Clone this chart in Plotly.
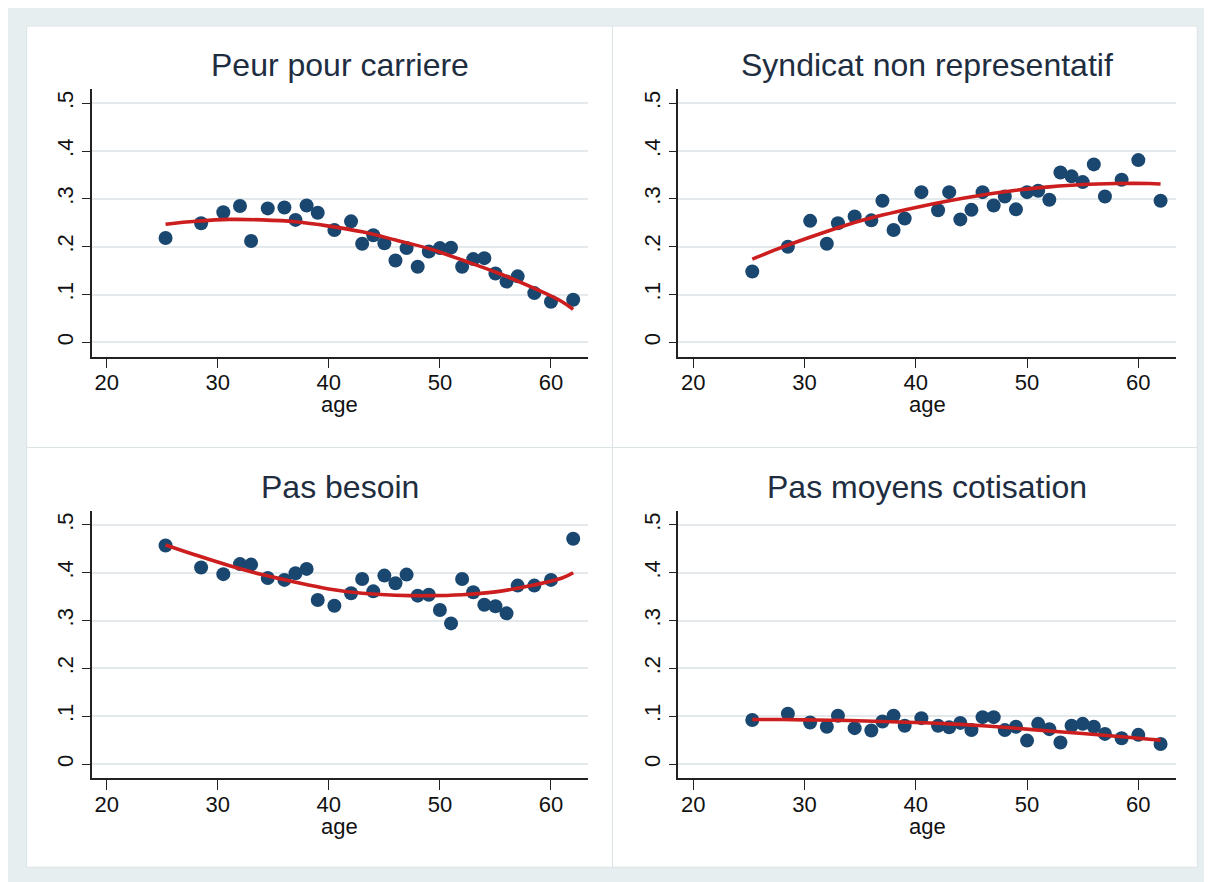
import plotly.graph_objects as go

# ---------------- data ----------------
ages = [25.3, 28.5, 30.5, 32, 33, 34.5, 36, 37, 38, 39, 40.5, 42, 43, 44, 45,
        46, 47, 48, 49, 50, 51, 52, 53, 54, 55, 56, 57, 58.5, 60, 62]

peur = [0.218, 0.249, 0.272, 0.285, 0.212, 0.280, 0.282, 0.256, 0.286, 0.271,
        0.235, 0.253, 0.206, 0.224, 0.207, 0.171, 0.197, 0.158, 0.190, 0.197,
        0.198, 0.158, 0.174, 0.176, 0.144, 0.127, 0.138, 0.103, 0.085, 0.089]

syndicat = [0.148, 0.200, 0.254, 0.206, 0.249, 0.263, 0.255, 0.296, 0.235, 0.259,
            0.314, 0.276, 0.314, 0.257, 0.277, 0.314, 0.286, 0.305, 0.278, 0.314,
            0.317, 0.298, 0.355, 0.347, 0.335, 0.372, 0.305, 0.340, 0.381, 0.296]

besoin = [0.457, 0.411, 0.397, 0.418, 0.417, 0.389, 0.385, 0.399, 0.408, 0.343,
          0.331, 0.357, 0.387, 0.361, 0.394, 0.378, 0.396, 0.352, 0.354, 0.322,
          0.294, 0.387, 0.359, 0.333, 0.330, 0.315, 0.373, 0.373, 0.385, 0.471]

moyens = [0.092, 0.105, 0.087, 0.078, 0.101, 0.075, 0.070, 0.089, 0.101, 0.080,
          0.096, 0.080, 0.077, 0.086, 0.071, 0.098, 0.098, 0.071, 0.078, 0.049,
          0.084, 0.073, 0.045, 0.080, 0.084, 0.078, 0.063, 0.054, 0.061, 0.042]

# fitted curves
fit_ages = [25.3, 28, 31, 34, 37, 40, 43, 46, 49, 52, 55, 58, 61, 62]
fit_peur = [0.247, 0.253, 0.257, 0.256, 0.252, 0.243, 0.231, 0.214, 0.196,
            0.172, 0.147, 0.118, 0.085, 0.069]
fit_syndicat = [0.174, 0.199, 0.224, 0.247, 0.266, 0.282, 0.296, 0.308, 0.318,
                0.325, 0.330, 0.332, 0.332, 0.331]
fit_besoin = [0.458, 0.437, 0.415, 0.396, 0.380, 0.366, 0.357, 0.353, 0.352,
              0.354, 0.360, 0.372, 0.389, 0.400]
fit_moyens = [0.093, 0.093, 0.092, 0.091, 0.089, 0.087, 0.084, 0.080, 0.075,
              0.069, 0.064, 0.058, 0.052, 0.050]

titles = ["Peur pour carriere", "Syndicat non representatif",
          "Pas besoin", "Pas moyens cotisation"]
x_title = "age"
x_ticks = [20, 30, 40, 50, 60]
y_ticks = [0, 0.1, 0.2, 0.3, 0.4, 0.5]
y_tick_text = ["0", ".1", ".2", ".3", ".4", ".5"]

# ---------------- layout geometry (pixels, page coordinates) ----------------
OFF = 8                      # default page body margin
W, H = 1212 - OFF, 882 - OFF
FONT = "Liberation Sans, Arial, sans-serif"
NAVY = "#1a476f"
RED = "#cc1e1e"
BG = "#e6eef0"
GRID = "#e4eaec"


def px_x(p):
    return (p - OFF) / W


def px_y(p):
    return 1 - (p - OFF) / H


panels = [
    dict(ax=(91.7, 588.3), ay=(89.3, 356.7), rect=(26.7, 612.5, 26, 447.5)),
    dict(ax=(678.3, 1175.7), ay=(89.3, 356.7), rect=(612.5, 1197.3, 26, 447.5)),
    dict(ax=(91.7, 588.3), ay=(511.0, 778.4), rect=(26.7, 612.5, 447.5, 867.3)),
    dict(ax=(678.3, 1175.7), ay=(511.0, 778.4), rect=(612.5, 1197.3, 447.5, 867.3)),
]
series = [peur, syndicat, besoin, moyens]
fits = [fit_peur, fit_syndicat, fit_besoin, fit_moyens]

fig = go.Figure()
shapes = []
annotations = []
layout = dict(width=W, height=H, margin=dict(l=0, r=0, t=0, b=0),
              paper_bgcolor=BG, plot_bgcolor="rgba(0,0,0,0)",
              showlegend=False, font=dict(family=FONT, color="#111111"))

for i, p in enumerate(panels):
    k = "" if i == 0 else str(i + 1)
    xa, ya = "x" + k, "y" + k
    x0, x1 = p["ax"]
    yt, yb = p["ay"]
    rx0, rx1, ry0, ry1 = p["rect"]
    shapes.append(dict(type="rect", xref="paper", yref="paper",
                       x0=px_x(rx0), x1=px_x(rx1), y0=px_y(ry1), y1=px_y(ry0),
                       fillcolor="white", line=dict(color="#dce3e6", width=1),
                       layer="below"))
    layout["xaxis" + k] = dict(
        domain=[px_x(x0), px_x(x1)], anchor=ya, range=[18.65, 63.36],
        tickvals=x_ticks, ticks="outside", ticklen=10, tickwidth=1.3,
        tickcolor="#222", showline=True, linecolor="#222", linewidth=1.5,
        showgrid=False, zeroline=False, ticklabelstandoff=-5,
        tickfont=dict(size=22, family=FONT, color="#111"))
    layout["yaxis" + k] = dict(
        domain=[px_y(yb), px_y(yt)], anchor=xa, range=[-0.030, 0.529],
        tickvals=y_ticks, ticktext=y_tick_text, tickangle=-90,
        ticks="outside", ticklen=8, tickwidth=1.3, tickcolor="#222",
        showline=True, linecolor="#222", linewidth=1.5,
        showgrid=True, gridcolor=GRID, gridwidth=2, zeroline=False,
        tickfont=dict(size=22, family=FONT, color="#111"))
    fig.add_trace(go.Scatter(x=ages, y=series[i], mode="markers", xaxis=xa,
                             yaxis=ya, marker=dict(color=NAVY, size=14,
                                                   line=dict(width=0))))
    fig.add_trace(go.Scatter(x=fit_ages, y=fits[i], mode="lines", xaxis=xa,
                             yaxis=ya, line=dict(color=RED, width=3.6,
                                                 shape="spline")))
    cx = (x0 + x1) / 2
    annotations.append(dict(text=titles[i], xref="paper", yref="paper",
                            x=px_x(cx), y=px_y(yt - 24.5), xanchor="center",
                            yanchor="middle", showarrow=False,
                            font=dict(size=32, family=FONT, color="#1e2d40")))
    annotations.append(dict(text=x_title, xref="paper", yref="paper",
                            x=px_x(cx), y=px_y(yb + 48), xanchor="center",
                            yanchor="middle", showarrow=False,
                            font=dict(size=22, family=FONT, color="#111")))

layout["shapes"] = shapes
layout["annotations"] = annotations
fig.update_layout(**layout)
fig.write_html("out.html")
